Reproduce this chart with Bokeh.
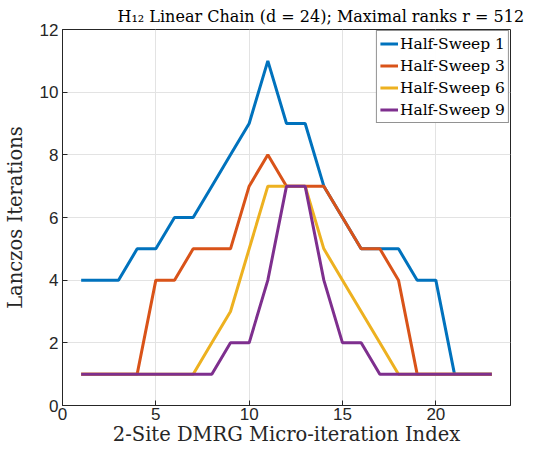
from bokeh.plotting import figure
from bokeh.models import Legend, LegendItem, Range1d, FixedTicker
from bokeh.embed import file_html
from bokeh.resources import INLINE

x = list(range(1, 24))
sweep1 = [4, 4, 4, 5, 5, 6, 6, 7, 8, 9, 11, 9, 9, 7, 6, 5, 5, 5, 4, 4, 1, 1, 1]
sweep3 = [1, 1, 1, 1, 4, 4, 5, 5, 5, 7, 8, 7, 7, 7, 6, 5, 5, 4, 1, 1, 1, 1, 1]
sweep6 = [1, 1, 1, 1, 1, 1, 1, 2, 3, 5, 7, 7, 7, 5, 4, 3, 2, 1, 1, 1, 1, 1, 1]
sweep9 = [1, 1, 1, 1, 1, 1, 1, 1, 2, 2, 4, 7, 7, 4, 2, 2, 1, 1, 1, 1, 1, 1, 1]
labels = ["Half-Sweep 1", "Half-Sweep 3", "Half-Sweep 6", "Half-Sweep 9"]
colors = ["#0072BD", "#D95319", "#EDB120", "#7E2F8E"]
x_ticks = [0, 5, 10, 15, 20]
y_ticks = [0, 2, 4, 6, 8, 10, 12]

serif = "DejaVu Serif"
sans = "Liberation Sans"
axis_col = "#262626"

p = figure(frame_width=448, frame_height=376, output_backend="svg", toolbar_location=None,
           x_range=Range1d(0, 24), y_range=Range1d(0, 12),
           min_border_left=54, min_border_right=16, min_border_top=23, min_border_bottom=50)

p.title.text = "H\u2081\u2082 Linear Chain (d = 24); Maximal ranks r = 512"
p.title.text_font = serif
p.title.text_font_style = "normal"
p.title.text_font_size = "16px"
p.title.align = "left"
p.title.offset = 55
p.title.text_color = "black"
p.title.standoff = 8

renderers = []
for ys, c in zip([sweep1, sweep3, sweep6, sweep9], colors):
    r = p.line(x, ys, line_color=c, line_width=3)
    renderers.append(r)

xax = p.below[0]
yax = p.left[0]
for ax in (xax, yax):
    ax.major_tick_in = 5
    ax.major_tick_out = 0
    ax.minor_tick_in = 0
    ax.minor_tick_out = 0
    ax.axis_line_color = axis_col
    ax.major_tick_line_color = axis_col
    ax.major_label_text_font = sans
    ax.major_label_text_font_size = "17px"
    ax.major_label_text_color = axis_col
    ax.axis_label_text_font = serif
    ax.axis_label_text_font_style = "normal"
    ax.axis_label_text_font_size = "19.5px"
    ax.axis_label_text_color = axis_col

xax.ticker = FixedTicker(ticks=x_ticks)
yax.ticker = FixedTicker(ticks=y_ticks)
xax.axis_label = "2-Site DMRG Micro-iteration Index"
yax.axis_label = "Lanczos Iterations"
xax.major_label_standoff = 2
yax.major_label_standoff = 4
xax.axis_label_standoff = 0
yax.axis_label_standoff = 10

p.xgrid.ticker = FixedTicker(ticks=x_ticks)
p.ygrid.ticker = FixedTicker(ticks=y_ticks)
p.xgrid.grid_line_color = "#E3E3E3"
p.ygrid.grid_line_color = "#E3E3E3"

p.outline_line_color = axis_col
p.outline_line_width = 1
p.background_fill_color = "white"
p.border_fill_color = "white"

legend = Legend(items=[LegendItem(label=l, renderers=[r]) for l, r in zip(labels, renderers)],
                location="top_right")
legend.label_text_font = serif
legend.label_text_font_style = "normal"
legend.label_text_font_size = "15.5px"
legend.label_text_color = "black"
legend.border_line_color = "#262626"
legend.border_line_width = 1
legend.glyph_width = 18
legend.glyph_height = 19
legend.label_standoff = 2
legend.spacing = 3
legend.padding = 3
legend.margin = 1
legend.label_height = 19
p.add_layout(legend, "center")

with open("out.html", "w") as f:
    f.write(file_html(p, INLINE))
